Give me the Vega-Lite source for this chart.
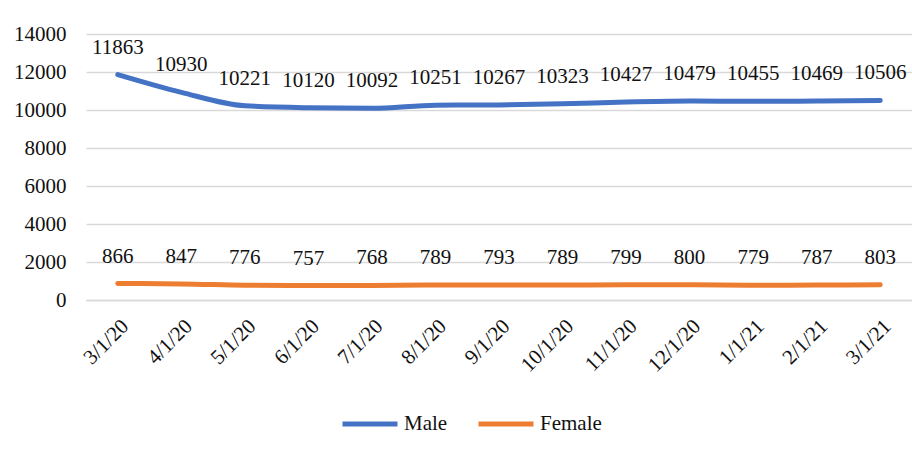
{
  "$schema": "https://vega.github.io/schema/vega-lite/v6.json",
  "autosize": "none",
  "width": 826,
  "height": 266,
  "padding": {"left": 86, "top": 34, "right": 0, "bottom": 154},
  "background": "white",
  "data": {
    "values": [
      {"date": "3/1/20", "sex": "Male", "count": 11863},
      {"date": "4/1/20", "sex": "Male", "count": 10930},
      {"date": "5/1/20", "sex": "Male", "count": 10221},
      {"date": "6/1/20", "sex": "Male", "count": 10120},
      {"date": "7/1/20", "sex": "Male", "count": 10092},
      {"date": "8/1/20", "sex": "Male", "count": 10251},
      {"date": "9/1/20", "sex": "Male", "count": 10267},
      {"date": "10/1/20", "sex": "Male", "count": 10323},
      {"date": "11/1/20", "sex": "Male", "count": 10427},
      {"date": "12/1/20", "sex": "Male", "count": 10479},
      {"date": "1/1/21", "sex": "Male", "count": 10455},
      {"date": "2/1/21", "sex": "Male", "count": 10469},
      {"date": "3/1/21", "sex": "Male", "count": 10506},
      {"date": "3/1/20", "sex": "Female", "count": 866},
      {"date": "4/1/20", "sex": "Female", "count": 847},
      {"date": "5/1/20", "sex": "Female", "count": 776},
      {"date": "6/1/20", "sex": "Female", "count": 757},
      {"date": "7/1/20", "sex": "Female", "count": 768},
      {"date": "8/1/20", "sex": "Female", "count": 789},
      {"date": "9/1/20", "sex": "Female", "count": 793},
      {"date": "10/1/20", "sex": "Female", "count": 789},
      {"date": "11/1/20", "sex": "Female", "count": 799},
      {"date": "12/1/20", "sex": "Female", "count": 800},
      {"date": "1/1/21", "sex": "Female", "count": 779},
      {"date": "2/1/21", "sex": "Female", "count": 787},
      {"date": "3/1/21", "sex": "Female", "count": 803}
    ]
  },
  "encoding": {
    "x": {
      "field": "date",
      "type": "ordinal",
      "sort": ["3/1/20", "4/1/20", "5/1/20", "6/1/20", "7/1/20", "8/1/20", "9/1/20", "10/1/20", "11/1/20", "12/1/20", "1/1/21", "2/1/21", "3/1/21"],
      "scale": {"type": "band", "paddingInner": 0, "paddingOuter": 0},
      "axis": {
        "title": null,
        "labelAngle": -45,
        "labelPadding": 15,
        "labelFont": "Liberation Serif",
        "labelFontSize": 21,
        "labelColor": "#111111",
        "ticks": false,
        "domainColor": "#d9d9d9",
        "domainWidth": 1.5,
        "grid": false
      }
    },
    "y": {
      "field": "count",
      "type": "quantitative",
      "scale": {"domain": [0, 14000], "nice": false},
      "axis": {
        "title": null,
        "values": [0, 2000, 4000, 6000, 8000, 10000, 12000, 14000],
        "format": "d",
        "labelFont": "Liberation Serif",
        "labelFontSize": 21,
        "labelColor": "#111111",
        "ticks": false,
        "domain": false,
        "labelPadding": 20,
        "grid": true,
        "gridColor": "#d9d9d9",
        "gridWidth": 1.5
      }
    },
    "color": {
      "field": "sex",
      "type": "nominal",
      "sort": ["Male", "Female"],
      "scale": {"domain": ["Male", "Female"], "range": ["#4472C4", "#ED7D31"]},
      "legend": {
        "title": null,
        "orient": "none",
        "direction": "horizontal",
        "legendX": 254,
        "legendY": 360,
        "labelFont": "Liberation Serif",
        "labelFontSize": 21,
        "labelColor": "#111111",
        "symbolType": "stroke",
        "symbolSize": 3025,
        "symbolStrokeWidth": 5,
        "labelOffset": 4,
        "columnPadding": 20
      }
    }
  },
  "layer": [
    {
      "mark": {"type": "line", "strokeWidth": 5, "strokeCap": "round", "interpolate": "monotone"}
    },
    {
      "mark": {"type": "text", "baseline": "middle", "dy": -27, "fontSize": 21, "font": "Liberation Serif", "color": "#111111"},
      "encoding": {
        "text": {"field": "count", "type": "quantitative", "format": "d"},
        "color": {"value": "#111111"}
      }
    }
  ],
  "config": {
    "view": {"stroke": null},
    "font": "Liberation Serif"
  }
}
